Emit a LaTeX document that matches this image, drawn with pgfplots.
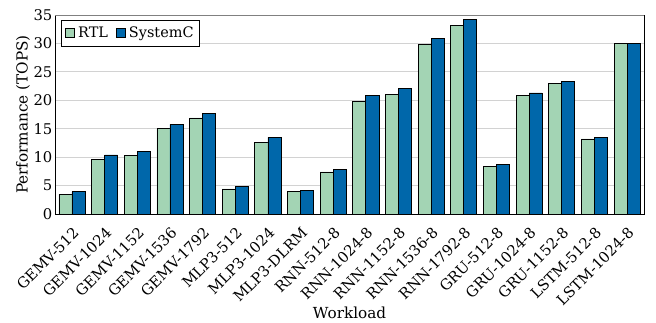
\documentclass[border=0pt]{standalone}
\usepackage{fontspec}
\setmainfont{DejaVu Serif}
\usepackage{pgfplots}
\pgfplotsset{compat=1.18}
\definecolor{rtl}{RGB}{163,212,180}
\definecolor{sysc}{RGB}{0,103,170}
\newcommand{\tf}{\fontsize{9.5}{11}\selectfont}
\newcommand{\gf}{\fontsize{9.3}{11}\selectfont}
\newcommand{\lf}{\fontsize{9.8}{11}\selectfont}
\begin{document}
\begin{tikzpicture}
\begin{axis}[
  scale only axis,
  width=379pt, height=128pt,
  ybar=0pt, bar width=8.4pt,
  xmin=-0.52, xmax=17.52,
  ymin=0, ymax=35,
  ytick={0,5,...,35},
  xtick=data,
  /pgf/number format/assume math mode=true,
  tick label style={font=\tf},
  label style={font=\lf},
  xticklabels={GEMV-512,GEMV-1024,GEMV-1152,GEMV-1536,GEMV-1792,MLP3-512,MLP3-1024,MLP3-DLRM,RNN-512-8,RNN-1024-8,RNN-1152-8,RNN-1536-8,RNN-1792-8,GRU-512-8,GRU-1024-8,GRU-1152-8,LSTM-512-8,LSTM-1024-8},
  x tick label style={rotate=45, anchor=north east, inner sep=0.5pt},
  xticklabel shift=7pt,
  y tick label style={inner sep=1.5pt},
  major tick length=0pt,
  ymajorgrids, grid style={gray!35, line width=0.6pt},
  axis line style={black},
  xlabel={Workload}, ylabel={Performance (TOPS)},
  xlabel style={at={(axis description cs:0.5,0)}, anchor=base, yshift=-67pt},
  ylabel style={at={(axis description cs:0,0.5)}, anchor=center, yshift=20.6pt},
  legend style={at={(0.011,0.975)}, anchor=north west, legend columns=2, draw=black, inner sep=2pt, font=\gf,
    /tikz/every even column/.append style={column sep=3pt}},
  legend image code/.code={\draw[#1, draw=black] (0pt,-3pt) rectangle (6pt,3pt);},
  every axis plot/.append style={draw=black, line width=0.5pt},
]
\addplot[fill=rtl] coordinates {(0,3.5) (1,9.65) (2,10.35) (3,15.0) (4,16.9) (5,4.4) (6,12.6) (7,3.9) (8,7.4) (9,19.8) (10,21.0) (11,29.9) (12,33.1) (13,8.35) (14,20.9) (15,22.9) (16,13.2) (17,30.0)};
\addplot[fill=sysc] coordinates {(0,3.9) (1,10.4) (2,11.05) (3,15.75) (4,17.7) (5,4.9) (6,13.5) (7,4.1) (8,7.9) (9,20.8) (10,22.05) (11,30.9) (12,34.3) (13,8.65) (14,21.3) (15,23.35) (16,13.5) (17,30.0)};
\legend{RTL,SystemC}
\draw[gray, line width=1.2pt] (rel axis cs:0,1) -- (rel axis cs:1,1);
\end{axis}
\pgfresetboundingbox
\path[use as bounding box] ([xshift=-35.4pt,yshift=-70.1pt]current axis.south west) rectangle ([xshift=7.7pt,yshift=9.7pt]current axis.north east);
\end{tikzpicture}
\end{document}
